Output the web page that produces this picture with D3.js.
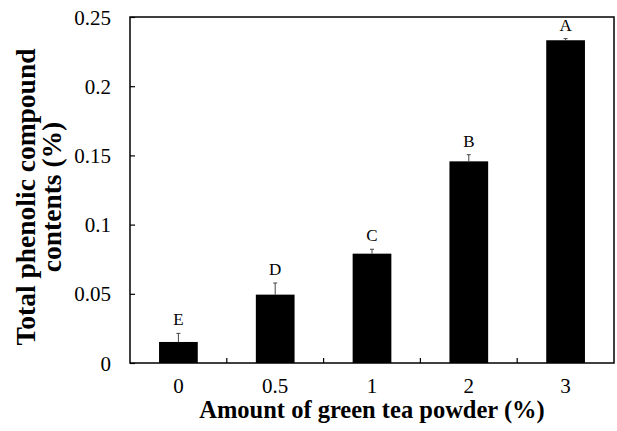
<!DOCTYPE html>
<html>
<head>
<meta charset="utf-8">
<script src="https://cdn.jsdelivr.net/npm/d3@7/dist/d3.min.js"></script>
<style>
  html, body { margin: 0; padding: 0; background: #fff; }
  svg { display: block; }
</style>
</head>
<body>
<svg id="chart" width="617" height="431"></svg>
<script>
// Green tea powder levels and measured phenolic content
const categories = ["0", "0.5", "1", "2", "3"];
const values = [0.0152, 0.0494, 0.0790, 0.1457, 0.2332];
const errors = [0.0062, 0.0084, 0.0032, 0.0048, 0.0012];
const letters = ["E", "D", "C", "B", "A"];
const yTicks = [0, 0.05, 0.1, 0.15, 0.2, 0.25];
const yTickLabels = ["0", "0.05", "0.1", "0.15", "0.2", "0.25"];

const FONT = '"Liberation Serif", "Times New Roman", serif';
const margin = { top: 17, right: 3, bottom: 68, left: 130 };
const W = 617, H = 431;
const iw = W - margin.left - margin.right;
const ih = H - margin.top - margin.bottom;

const svg = d3.select("#chart");
const g = svg.append("g").attr("transform", `translate(${margin.left},${margin.top})`);

const x = d3.scaleBand().domain(categories).range([0, iw]).paddingInner(0.6).paddingOuter(0.3);
const band = d3.scaleBand().domain(categories).range([0, iw]);
const y = d3.scaleLinear().domain([0, 0.25]).range([ih, 0]);

// Bars
g.selectAll("rect.bar").data(values).join("rect")
  .attr("class", "bar")
  .attr("x", (d, i) => x(categories[i]))
  .attr("width", x.bandwidth())
  .attr("y", d => y(d))
  .attr("height", d => ih - y(d))
  .attr("fill", "#000");

// Upper error bars
const eb = g.selectAll("g.err").data(values).join("g").attr("class", "err");
eb.append("line")
  .attr("x1", (d, i) => x(categories[i]) + x.bandwidth() / 2)
  .attr("x2", (d, i) => x(categories[i]) + x.bandwidth() / 2)
  .attr("y1", d => y(d))
  .attr("y2", (d, i) => y(d + errors[i]))
  .attr("stroke", "#444").attr("stroke-width", 1);
eb.append("line")
  .attr("x1", (d, i) => x(categories[i]) + x.bandwidth() / 2 - 2)
  .attr("x2", (d, i) => x(categories[i]) + x.bandwidth() / 2 + 2)
  .attr("y1", (d, i) => y(d + errors[i]))
  .attr("y2", (d, i) => y(d + errors[i]))
  .attr("stroke", "#444").attr("stroke-width", 1);

// Significance letters
g.selectAll("text.sig").data(values).join("text")
  .attr("class", "sig")
  .attr("x", (d, i) => x(categories[i]) + x.bandwidth() / 2)
  .attr("y", (d, i) => y(d + errors[i]) - 8)
  .attr("text-anchor", "middle")
  .style("font-family", FONT)
  .style("font-size", "17px")
  .text((d, i) => letters[i]);

// Y axis with inward ticks
const yAxis = d3.axisLeft(y).tickValues(yTicks).tickSize(-5).tickPadding(19)
  .tickFormat((d, i) => yTickLabels[i]);
const ya = g.append("g").call(yAxis);
ya.select(".domain").remove();
ya.selectAll("line").attr("stroke", "#000").attr("stroke-width", 1.2);
ya.selectAll("text").style("font-family", FONT).style("font-size", "21px").attr("dy", "0.34em");

// X axis: labels at bar centres, inward ticks at category boundaries
const xa = g.append("g").attr("transform", `translate(0,${ih})`)
  .call(d3.axisBottom(band).tickSize(0).tickPadding(0));
xa.select(".domain").remove();
xa.selectAll("text").style("font-family", FONT).style("font-size", "21px")
  .attr("dy", null).attr("y", 30);
g.selectAll("line.xsep").data(categories.slice(1)).join("line")
  .attr("class", "xsep")
  .attr("x1", d => band(d)).attr("x2", d => band(d))
  .attr("y1", ih).attr("y2", ih - 5)
  .attr("stroke", "#000").attr("stroke-width", 1.2);

// Plot frame
g.append("rect").attr("x", 0).attr("y", 0).attr("width", iw).attr("height", ih)
  .attr("fill", "none").attr("stroke", "#000").attr("stroke-width", 1.5);

// Axis titles
svg.append("text")
  .attr("x", margin.left + iw / 2).attr("y", 418)
  .attr("text-anchor", "middle")
  .style("font-family", FONT)
  .style("font-size", "24.5px").style("font-weight", "bold")
  .text("Amount of green tea powder (%)");

const yt = svg.append("text")
  .attr("transform", `translate(35,197) rotate(-90)`)
  .attr("text-anchor", "middle")
  .style("font-family", FONT)
  .style("font-size", "27.5px").style("font-weight", "bold");
yt.append("tspan").attr("x", 0).attr("dy", 0).text("Total phenolic compound");
yt.append("tspan").attr("x", 0).attr("dy", 26).text("contents (%)");
</script>
</body>
</html>
